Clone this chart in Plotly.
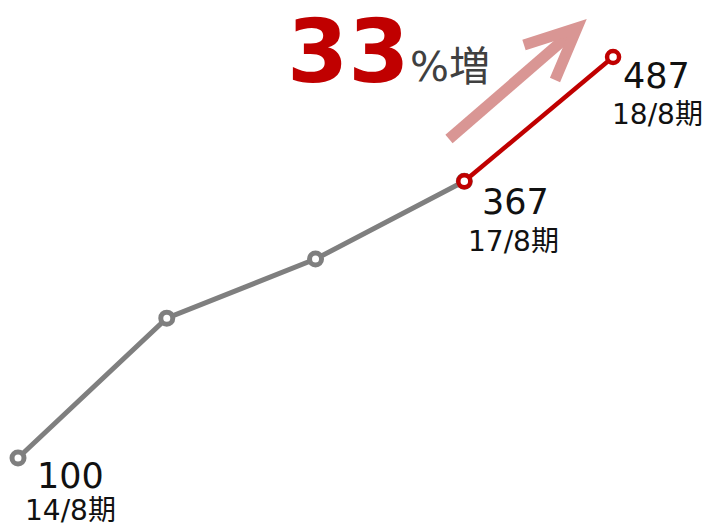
import plotly.graph_objects as go

periods = ["14/8期", "15/8期", "16/8期", "17/8期", "18/8期"]
values = [100, 235, 292, 367, 487]
shown_idx = [0, 3, 4]

W, H = 705, 526
GRAY = "#7F7F7F"
RED = "#C00000"
FONT = "DejaVu Sans, Noto Sans CJK JP, sans-serif"

xs = list(range(len(values)))

fig = go.Figure()
fig.add_trace(go.Scatter(
    x=xs[:4], y=values[:4], mode="lines+markers",
    line=dict(color=GRAY, width=5),
    marker=dict(size=12, color="white", line=dict(color=GRAY, width=5)),
    hoverinfo="skip"))
fig.add_trace(go.Scatter(
    x=xs[3:], y=values[3:], mode="lines+markers",
    line=dict(color=RED, width=4.5),
    marker=dict(size=12, color="white", line=dict(color=RED, width=4.5)),
    hoverinfo="skip"))

offsets = {0: (52, 15, 52, 50), 3: (51, 18, 49, 58), 4: (43, 16, 44, 56)}
for i in shown_idx:
    dx1, dy1, dx2, dy2 = offsets[i]
    fig.add_annotation(x=xs[i], y=values[i], xref="x", yref="y",
                       text=str(values[i]), showarrow=False,
                       xanchor="center", yanchor="middle",
                       xshift=dx1, yshift=-dy1 - 3,
                       font=dict(family=FONT, size=35, color="#111111"))
    fig.add_annotation(x=xs[i], y=values[i], xref="x", yref="y",
                       text=periods[i], showarrow=False,
                       xanchor="center", yanchor="middle",
                       xshift=dx2, yshift=-dy2 - 2,
                       font=dict(family=FONT, size=28, color="#111111"))

def px(x):
    return x / W

def py(y):
    return 1 - y / H

# big growth text
fig.add_annotation(x=px(285), y=py(51), xref="paper", yref="paper",
                   text="<b>33</b>", showarrow=False, xanchor="left", yanchor="middle",
                   font=dict(family=FONT, size=88, color=RED))
fig.add_annotation(x=px(408), y=py(67), xref="paper", yref="paper",
                   text="%増", showarrow=False, xanchor="left", yanchor="middle",
                   font=dict(family=FONT, size=41, color="#404040"))

ARROW = "#D99694"
def path(pts):
    return "M " + " L ".join(f"{px(a)} {py(b)}" for a, b in pts)

fig.add_shape(type="path", xref="paper", yref="paper",
              path=path([(449, 139), (576, 29)]),
              line=dict(color=ARROW, width=11))
fig.add_shape(type="path", xref="paper", yref="paper",
              path=path([(524, 45), (577, 28), (555, 80)]),
              line=dict(color=ARROW, width=11))

fig.update_layout(
    width=W, height=H,
    margin=dict(l=0, r=0, t=0, b=0),
    paper_bgcolor="white", plot_bgcolor="white",
    showlegend=False,
    xaxis=dict(range=[-0.121, 4.618], visible=False, fixedrange=True),
    yaxis=dict(range=[34.4, 542.0], visible=False, fixedrange=True),
)

fig.write_html("out.html")
